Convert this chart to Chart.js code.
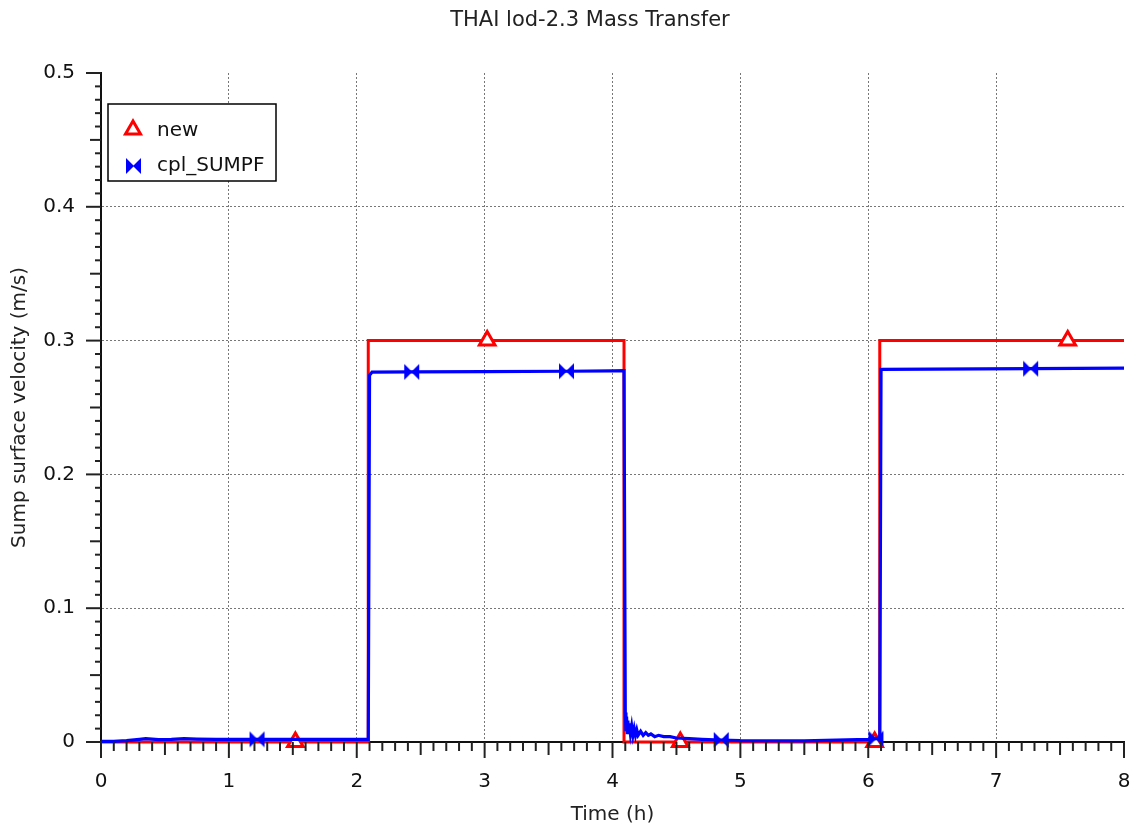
<!DOCTYPE html>
<html>
<head>
<meta charset="utf-8">
<script src="https://cdn.jsdelivr.net/npm/chart.js@4.4.1/dist/chart.umd.min.js"></script>
<style>
  body { margin: 0; background: #fff; }
  #wrap { width: 1132px; height: 829px; }
</style>
</head>
<body>
<div id="wrap"><canvas id="chart" width="1132" height="829"></canvas></div>
<script>
// red "new" series
const newTime = [0, 1.52, 2.09, 2.09, 3.02, 4.09, 4.09, 4.53, 6.05, 6.09, 6.09, 7.56, 8];
const newValue = [0, 0, 0, 0.3, 0.3, 0.3, 0, 0, 0, 0, 0.3, 0.3, 0.3];
const newMarkers = [1.52, 3.02, 4.53, 6.05, 7.56];

// blue "cpl_SUMPF" series
const sumpfTime = [0, 0.1, 0.2, 0.3, 0.35, 0.45, 0.55, 0.65, 0.75, 0.9, 1.0, 1.22, 1.5, 1.8, 2.0, 2.09,
  2.1, 2.12, 2.43, 3.0, 3.64, 4.0, 4.09,
  4.1, 4.105, 4.11, 4.115, 4.12, 4.125, 4.13, 4.14, 4.15, 4.16, 4.17, 4.18, 4.19, 4.2, 4.22, 4.24, 4.26,
  4.28, 4.3, 4.33, 4.36, 4.4, 4.45, 4.5, 4.6, 4.7, 4.85, 5.0, 5.5, 6.0, 6.06, 6.09,
  6.1, 6.5, 7.27, 8];
const sumpfValue = [0.0005, 0.0005, 0.001, 0.002, 0.0025, 0.0018, 0.002, 0.0025, 0.0022, 0.002, 0.002, 0.002, 0.002, 0.002, 0.002, 0.002,
  0.274, 0.2765, 0.2766, 0.2768, 0.2771, 0.2773, 0.2775,
  0.022, 0.008, 0.019, 0.007, 0.016, 0.006, 0.014, 0.006, 0.012, 0.005, 0.01, 0.005, 0.009, 0.005, 0.008, 0.005, 0.007,
  0.005, 0.006, 0.004, 0.005, 0.004, 0.004, 0.003, 0.0025, 0.002, 0.0015, 0.001, 0.0008, 0.002, 0.0025, 0.003,
  0.2785, 0.2787, 0.279, 0.2795];
const sumpfMarkers = [1.22, 2.43, 3.64, 4.85, 6.06, 7.27];

const xTicks = [0, 1, 2, 3, 4, 5, 6, 7, 8];
const yTicks = [0, 0.1, 0.2, 0.3, 0.4, 0.5];

const FONT = "'DejaVu Sans', sans-serif";

function points(ts, vs) {
  return ts.map((t, i) => ({ x: t, y: vs[i] }));
}

function isMarker(list, x) {
  return list.some((m) => Math.abs(m - x) < 1e-9);
}

function bowtie(color) {
  const c = document.createElement("canvas");
  c.width = 17;
  c.height = 18;
  const g = c.getContext("2d");
  g.fillStyle = color;
  g.beginPath(); g.moveTo(1, 1); g.lineTo(9, 9); g.lineTo(1, 17); g.closePath(); g.fill();
  g.beginPath(); g.moveTo(16, 1); g.lineTo(8, 9); g.lineTo(16, 17); g.closePath(); g.fill();
  return c;
}
const blueTie = bowtie("#0000ff");

// minor tick marks, title, axis titles and boxed legend
const decorations = {
  id: "decorations",
  afterDraw(chart) {
    const { ctx, scales: { x, y }, chartArea: a } = chart;
    ctx.save();
    ctx.strokeStyle = "#222";
    ctx.lineWidth = 2;
    for (let i = 0; i <= 80; i++) {
      const px = x.getPixelForValue(i / 10);
      const len = i % 10 === 0 ? 16 : i % 5 === 0 ? 13 : 9;
      ctx.beginPath(); ctx.moveTo(px, a.bottom); ctx.lineTo(px, a.bottom + len); ctx.stroke();
    }
    for (let i = 0; i <= 50; i++) {
      const py = y.getPixelForValue(i / 100);
      const len = i % 10 === 0 ? 15 : i % 5 === 0 ? 11 : 6;
      ctx.beginPath(); ctx.moveTo(a.left, py); ctx.lineTo(a.left - len, py); ctx.stroke();
    }

    ctx.fillStyle = "#222";
    ctx.textAlign = "center";
    ctx.textBaseline = "middle";
    ctx.font = "21px " + FONT;
    ctx.fillText("THAI lod-2.3 Mass Transfer", 590, 21);
    ctx.font = "20px " + FONT;
    ctx.fillText("Time (h)", (a.left + a.right) / 2, 815);
    ctx.save();
    ctx.translate(20, (a.top + a.bottom) / 2);
    ctx.rotate(-Math.PI / 2);
    ctx.fillText("Sump surface velocity (m/s)", 0, 0);
    ctx.restore();

    // legend box
    ctx.fillStyle = "#fff";
    ctx.fillRect(108, 104, 168, 77);
    ctx.strokeStyle = "#000";
    ctx.lineWidth = 1.5;
    ctx.strokeRect(108, 104, 168, 77);
    const ds = chart.data.datasets;
    ctx.beginPath();
    ctx.moveTo(133, 121); ctx.lineTo(140.5, 134); ctx.lineTo(125.5, 134); ctx.closePath();
    ctx.fillStyle = "#fff"; ctx.fill();
    ctx.strokeStyle = "#ff0000"; ctx.lineWidth = 3; ctx.stroke();
    ctx.drawImage(blueTie, 125, 157);
    ctx.fillStyle = "#111";
    ctx.textAlign = "left";
    ctx.font = "20px " + FONT;
    ctx.fillText(ds[0].label, 157, 131);
    ctx.fillText(ds[1].label, 157, 166);
    ctx.restore();
  },
};

new Chart(document.getElementById("chart"), {
  type: "line",
  data: {
    datasets: [
      {
        label: "new",
        data: points(newTime, newValue),
        borderColor: "#ff0000",
        borderWidth: 3,
        backgroundColor: "#ffffff",
        pointStyle: (c) => (isMarker(newMarkers, c.raw.x) ? "triangle" : false),
        pointRadius: (c) => (isMarker(newMarkers, c.raw.x) ? 9 : 0),
        pointBorderWidth: 3,
        pointBorderColor: "#ff0000",
        pointBackgroundColor: "#ffffff",
        clip: false,
        order: 2,
      },
      {
        label: "cpl_SUMPF",
        data: points(sumpfTime, sumpfValue),
        borderColor: "#0000ff",
        borderWidth: 3.2,
        pointStyle: (c) => (isMarker(sumpfMarkers, c.raw.x) ? blueTie : false),
        pointRadius: (c) => (isMarker(sumpfMarkers, c.raw.x) ? 8 : 0),
        clip: false,
        order: 1,
      },
    ],
  },
  options: {
    responsive: false,
    animation: false,
    events: [],
    layout: { padding: { top: 73, right: 8, left: 0, bottom: 0 } },
    plugins: { legend: { display: false }, title: { display: false }, tooltip: { enabled: false } },
    scales: {
      x: {
        type: "linear",
        min: 0,
        max: 8,
        afterFit: (s) => { s.height = 87; s.paddingLeft = 0; s.paddingRight = 0; },
        afterBuildTicks: (s) => { s.ticks = xTicks.map((v) => ({ value: v })); },
        ticks: { padding: 28, color: "#111", font: { family: FONT, size: 20 }, callback: (v) => String(v) },
        grid: {
          drawTicks: false,
          lineWidth: 1,
          color: (c) => (c.tick && (c.tick.value === 0 || c.tick.value === 8) ? "rgba(0,0,0,0)" : "#777"),
        },
        border: { display: true, color: "#111", width: 2, dash: [2, 2] },
      },
      y: {
        min: 0,
        max: 0.5,
        afterFit: (s) => { s.width = 101; s.paddingTop = 0; s.paddingBottom = 0; },
        afterBuildTicks: (s) => { s.ticks = yTicks.map((v) => ({ value: v })); },
        ticks: { padding: 26, color: "#111", font: { family: FONT, size: 20 }, callback: (v) => (v === 0 ? "0" : v.toFixed(1)) },
        grid: {
          drawTicks: false,
          lineWidth: 1,
          color: (c) => (c.tick && (c.tick.value === 0 || c.tick.value === 0.5) ? "rgba(0,0,0,0)" : "#777"),
        },
        border: { display: true, color: "#111", width: 2, dash: [2, 2] },
      },
    },
  },
  plugins: [decorations],
});
</script>
</body>
</html>
